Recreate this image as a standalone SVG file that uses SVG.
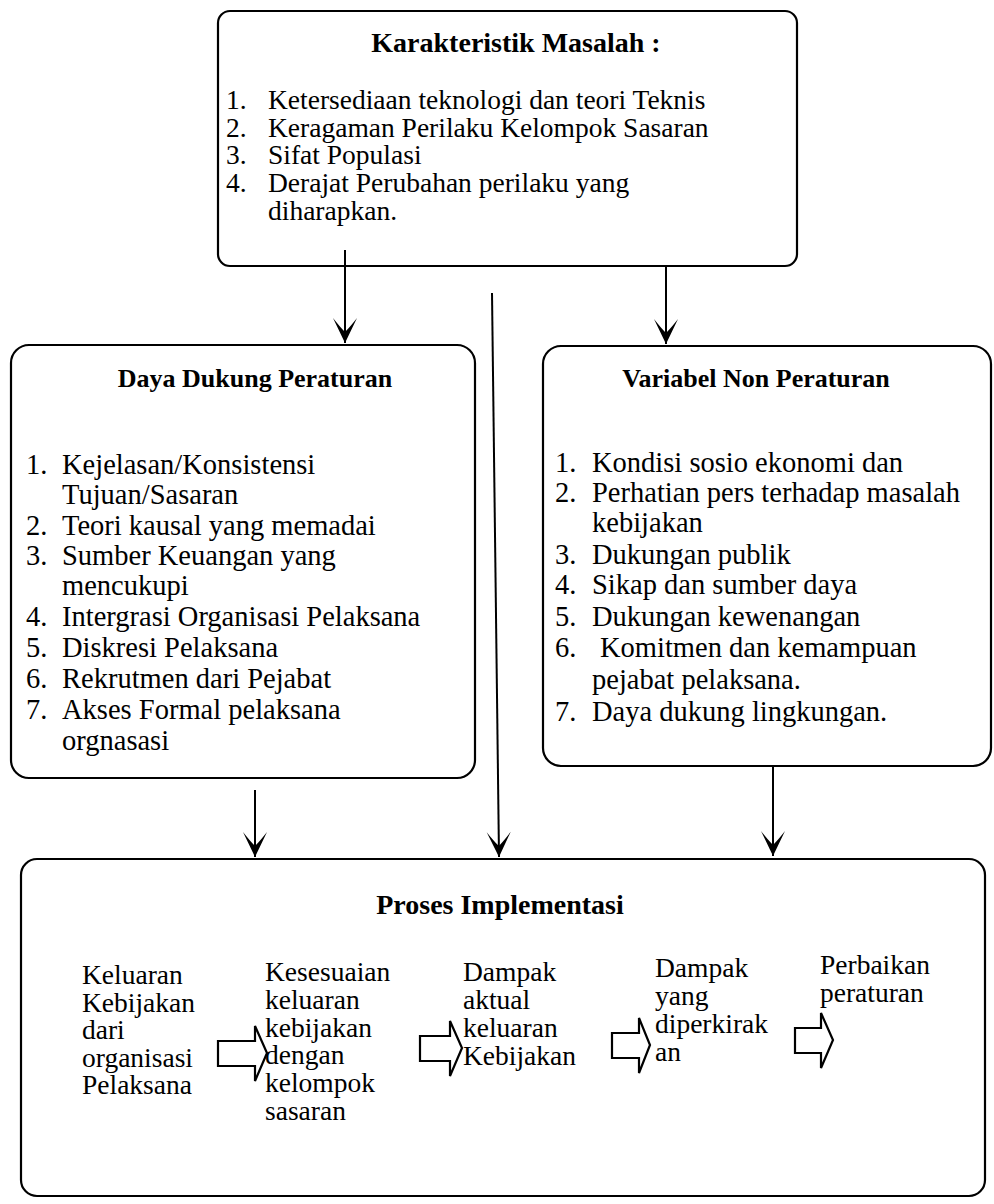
<svg xmlns="http://www.w3.org/2000/svg" width="994" height="1204" viewBox="0 0 994 1204">
<style>
.box{fill:none;stroke:#000;stroke-width:2.2}
.t{font-family:"Liberation Serif","Times New Roman",serif;font-size:28.5px;fill:#000}
.s{font-size:27.5px}
.h{font-family:"Liberation Serif","Times New Roman",serif;font-size:26px;font-weight:bold;fill:#000;text-anchor:middle}
.ln{stroke:#000;stroke-width:2;fill:none}
.blk{fill:#fff;stroke:#000;stroke-width:2.2;stroke-linejoin:miter}
</style>
<defs>
<marker id="ah" viewBox="-27 -14 29 28" refX="0" refY="0" markerWidth="29" markerHeight="28" markerUnits="userSpaceOnUse" orient="auto">
<path d="M0,0 L-25,-12 Q-16,-5 -11,0 Q-16,5 -25,12 Z" fill="#000"/>
</marker>
</defs>
<rect width="994" height="1204" fill="#fff"/>

<g id="karakteristik">
<rect class="box" x="218" y="11" width="579" height="255" rx="12"/>
<text class="h" x="516" y="52" style="font-size:28px">Karakteristik Masalah :</text>
<text class="t s" x="226" y="109">1.</text><text class="t s" x="268" y="109">Ketersediaan teknologi dan teori Teknis</text>
<text class="t s" x="226" y="136.5">2.</text><text class="t s" x="268" y="136.5">Keragaman Perilaku Kelompok Sasaran</text>
<text class="t s" x="226" y="164">3.</text><text class="t s" x="268" y="164">Sifat Populasi</text>
<text class="t s" x="226" y="191.5">4.</text><text class="t s" x="268" y="191.5">Derajat Perubahan perilaku yang</text>
<text class="t s" x="268" y="220">diharapkan.</text>
</g>

<g id="daya-dukung">
<rect class="box" x="11" y="345" width="464" height="433" rx="18"/>
<text class="h" x="255" y="387">Daya Dukung Peraturan</text>
<text class="t" x="26" y="474">1.</text><text class="t" x="62" y="474">Kejelasan/Konsistensi</text>
<text class="t" x="62" y="504">Tujuan/Sasaran</text>
<text class="t" x="26" y="535">2.</text><text class="t" x="62" y="535">Teori kausal yang memadai</text>
<text class="t" x="26" y="565">3.</text><text class="t" x="62" y="565">Sumber Keuangan yang</text>
<text class="t" x="62" y="595">mencukupi</text>
<text class="t" x="26" y="626">4.</text><text class="t" x="62" y="626">Intergrasi Organisasi Pelaksana</text>
<text class="t" x="26" y="657">5.</text><text class="t" x="62" y="657">Diskresi Pelaksana</text>
<text class="t" x="26" y="688">6.</text><text class="t" x="62" y="688">Rekrutmen dari Pejabat</text>
<text class="t" x="26" y="719">7.</text><text class="t" x="62" y="719">Akses Formal pelaksana</text>
<text class="t" x="62" y="750">orgnasasi</text>
</g>

<g id="variabel-non">
<rect class="box" x="543" y="346" width="448" height="420" rx="18"/>
<text class="h" x="756" y="387">Variabel Non Peraturan</text>
<text class="t" x="555" y="472">1.</text><text class="t" x="592" y="472">Kondisi sosio ekonomi dan</text>
<text class="t" x="555" y="502">2.</text><text class="t" x="592" y="502">Perhatian pers terhadap masalah</text>
<text class="t" x="592" y="532">kebijakan</text>
<text class="t" x="555" y="564">3.</text><text class="t" x="592" y="564">Dukungan publik</text>
<text class="t" x="555" y="594">4.</text><text class="t" x="592" y="594">Sikap dan sumber daya</text>
<text class="t" x="555" y="626">5.</text><text class="t" x="592" y="626">Dukungan kewenangan</text>
<text class="t" x="555" y="657">6.</text><text class="t" x="600" y="657">Komitmen dan kemampuan</text>
<text class="t" x="592" y="689">pejabat pelaksana.</text>
<text class="t" x="555" y="721">7.</text><text class="t" x="592" y="721">Daya dukung lingkungan.</text>
</g>

<g id="proses">
<rect class="box" x="21" y="859" width="964" height="337" rx="16"/>
<text class="h" x="500" y="914" style="font-size:28px">Proses Implementasi</text>
<text class="t s" x="82" y="984">Keluaran</text>
<text class="t s" x="82" y="1011.5">Kebijakan</text>
<text class="t s" x="82" y="1039">dari</text>
<text class="t s" x="82" y="1066.5">organisasi</text>
<text class="t s" x="82" y="1094">Pelaksana</text>
<text class="t s" x="265" y="981">Kesesuaian</text>
<text class="t s" x="265" y="1008.8">keluaran</text>
<text class="t s" x="265" y="1036.6">kebijakan</text>
<text class="t s" x="265" y="1064.4">dengan</text>
<text class="t s" x="265" y="1092.2">kelompok</text>
<text class="t s" x="265" y="1120">sasaran</text>
<text class="t s" x="463" y="981">Dampak</text>
<text class="t s" x="463" y="1009">aktual</text>
<text class="t s" x="463" y="1037">keluaran</text>
<text class="t s" x="463" y="1065">Kebijakan</text>
<text class="t s" x="655" y="977">Dampak</text>
<text class="t s" x="655" y="1005">yang</text>
<text class="t s" x="655" y="1033">diperkirak</text>
<text class="t s" x="655" y="1061">an</text>
<text class="t s" x="820" y="974">Perbaikan</text>
<text class="t s" x="820" y="1002">peraturan</text>
<path class="blk" d="M218,1041 H255 V1026 L267,1053 L255,1081 V1066 H218 Z"/>
<path class="blk" d="M420,1036 H450 V1021 L462,1048 L450,1076 V1061 H420 Z"/>
<path class="blk" d="M612,1033 H639 V1018 L650,1045 L639,1073 V1058 H612 Z"/>
<path class="blk" d="M795,1028 H821 V1013 L833,1040 L821,1068 V1053 H795 Z"/>
</g>

<g id="connectors">
<line class="ln" x1="345" y1="250" x2="345" y2="343" marker-end="url(#ah)"/>
<line class="ln" x1="492" y1="293" x2="499" y2="857" marker-end="url(#ah)"/>
<line class="ln" x1="666" y1="266" x2="666" y2="344" marker-end="url(#ah)"/>
<line class="ln" x1="255" y1="790" x2="255" y2="857" marker-end="url(#ah)"/>
<line class="ln" x1="773" y1="766" x2="773" y2="856" marker-end="url(#ah)"/>
</g>
</svg>
